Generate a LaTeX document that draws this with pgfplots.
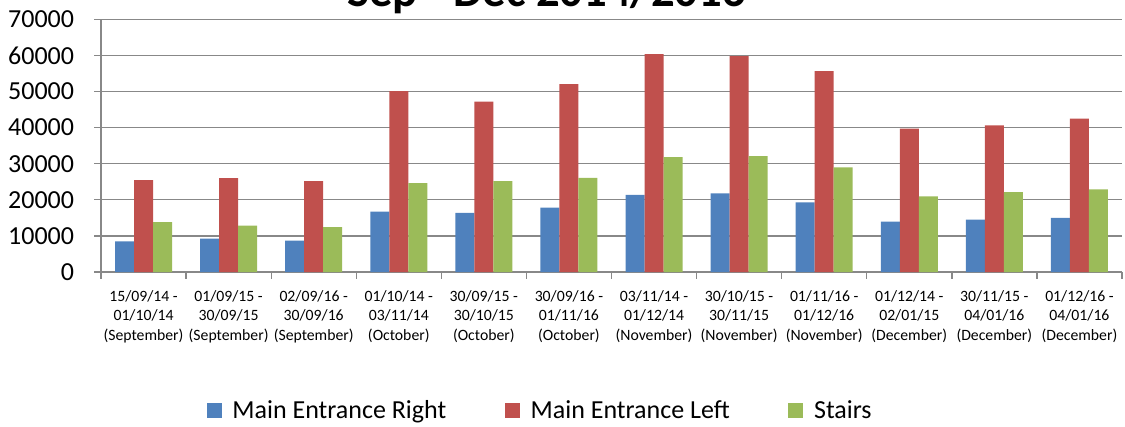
\documentclass[border=0pt]{standalone}
\usepackage{fontspec}
\setmainfont{Carlito}
\usepackage{pgfplots}
\pgfplotsset{compat=1.18}
\definecolor{cblue}{HTML}{4F81BD}
\definecolor{cred}{HTML}{C0504D}
\definecolor{cgreen}{HTML}{9BBB59}
\definecolor{cgrid}{HTML}{888888}
\begin{document}
\begin{tikzpicture}
\path[use as bounding box] (0,0) rectangle (843.75pt,319.5pt);
\clip (0,0) rectangle (843.75pt,319.5pt);
\begin{axis}[
  at={(75.75pt,115.5pt)}, anchor=south west,
  scale only axis, width=765.75pt, height=189.5pt,
  ybar=0pt, bar width=14.25pt,
  xmin=0.5, xmax=12.5, ymin=0, ymax=70000,
  enlargelimits=false,
  axis lines=left,
  axis line style={-, cgrid, line width=1pt},
  xtick={0.5,1.5,...,12.5},
  xticklabels={
    {15/09/14 -\\01/10/14\\(September)},
    {01/09/15 -\\30/09/15\\(September)},
    {02/09/16 -\\30/09/16\\(September)},
    {01/10/14 -\\03/11/14\\(October)},
    {30/09/15 -\\30/10/15\\(October)},
    {30/09/16 -\\01/11/16\\(October)},
    {03/11/14 -\\01/12/14\\(November)},
    {30/10/15 -\\30/11/15\\(November)},
    {01/11/16 -\\01/12/16\\(November)},
    {01/12/14 -\\02/01/15\\(December)},
    {30/11/15 -\\04/01/16\\(December)},
    {01/12/16 -\\04/01/16\\(December)},
    {}},
  xticklabel style={align=center, anchor=north, inner sep=0pt, xshift=31.9pt, yshift=-8.5pt,
    font=\fontsize{11.8}{14.8}\selectfont},
  ytick={0,10000,...,70000},
  yticklabels={0,10000,20000,30000,40000,50000,60000,70000},
  scaled y ticks=false,
  yticklabel style={anchor=east, inner sep=0pt, xshift=-15pt, font=\fontsize{19.5}{23}\selectfont},
  tick align=outside, major tick length=5pt,
  tick style={cgrid, line width=1pt},
  ymajorgrids, grid style={cgrid, line width=1pt},
  legend style={at={(0.4305,-0.548)}, anchor=center, draw=none, fill=none,
    font=\fontsize{19.5}{23}\selectfont,
    /tikz/every even column/.append style={column sep=42pt},
    /tikz/every odd column/.append style={column sep=6pt}},
  legend columns=3,
]
\addplot[fill=cblue, draw=none, legend image code/.code={\fill[cblue] (0pt,-5.6pt) rectangle (11.25pt,5.6pt);}]
  coordinates {(1,8520) (2,9260) (3,8700) (4,16760) (5,16390) (6,17870) (7,21390) (8,21760) (9,19260) (10,13980) (11,14540) (12,15000)};
\addplot[fill=cred, draw=none, legend image code/.code={\fill[cred] (0pt,-5.6pt) rectangle (11.25pt,5.6pt);}]
  coordinates {(1,25460) (2,26020) (3,25190) (4,50090) (5,47220) (6,52040) (7,60370) (8,59810) (9,55650) (10,39720) (11,40650) (12,42500)};
\addplot[fill=cgreen, draw=none, legend image code/.code={\fill[cgreen] (0pt,-5.6pt) rectangle (11.25pt,5.6pt);}]
  coordinates {(1,13800) (2,12870) (3,12410) (4,24630) (5,25190) (6,26110) (7,31850) (8,32130) (9,28980) (10,20930) (11,22130) (12,22870)};
\legend{Main Entrance Right, Main Entrance Left, Stairs}
\end{axis}
\node[anchor=base, font=\bfseries\fontsize{35}{40}\selectfont, inner sep=0pt] at (409.9pt,314.25pt) {Sep - Dec 2014/2016};
\end{tikzpicture}
\end{document}
